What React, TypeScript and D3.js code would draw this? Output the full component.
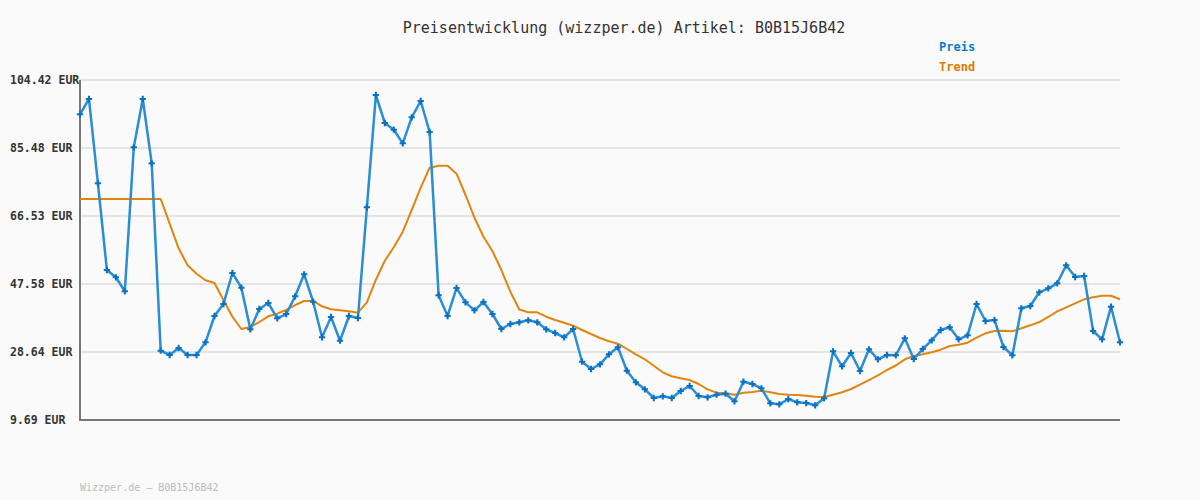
import React, { useEffect, useRef } from "react";
import * as d3 from "d3";

const title = "Preisentwicklung (wizzper.de) Artikel: B0B15J6B42";
const footer = "Wizzper.de – B0B15J6B42";
const legendLabels = ["Preis", "Trend"];
const yTicks = [9.69, 28.64, 47.58, 66.53, 85.48, 104.42];

const price = [
  94.86, 99.13, 75.64, 51.48, 49.45, 45.55, 85.67, 99.13, 81.21, 29.0,
  27.8, 29.75, 27.8, 27.8, 31.34, 38.67, 42.01, 50.65, 46.55, 34.96,
  40.62, 42.29, 38.03, 39.22, 44.15, 50.28, 42.65, 32.73, 38.39, 31.78,
  38.67, 38.11, 68.95, 100.24, 92.44, 90.57, 86.78, 94.03, 98.57, 89.93,
  44.43, 38.67, 46.47, 42.48, 40.25, 42.57, 39.22, 35.04, 36.44, 36.91,
  37.47, 36.91, 34.96, 33.93, 32.73, 35.04, 25.93, 23.9, 25.21, 27.99,
  29.94, 23.42, 20.19, 18.24, 15.82, 16.29, 15.82, 17.77, 19.16, 16.38,
  16.01, 16.74, 17.02, 14.9, 20.36, 19.72, 18.52, 14.34, 14.06, 15.54,
  14.62, 14.42, 13.78, 15.74, 28.83, 24.65, 28.36, 23.34, 29.39, 26.6,
  27.8, 27.72, 32.45, 26.68, 29.47, 31.89, 34.76, 35.52, 32.17, 33.29,
  42.01, 37.27, 37.55, 30.03, 27.72, 40.81, 41.45, 45.27, 46.38, 47.78,
  52.79, 49.53, 49.81, 34.49, 32.17, 41.26, 31.34,
];

const trend = [
  71.26, 71.26, 71.26, 71.26, 71.26, 71.26, 71.26, 71.26, 71.26, 71.26,
  64.38, 57.53, 52.79, 50.45, 48.61, 47.86, 43.12, 38.47, 35.04, 35.6,
  36.99, 38.58, 39.31, 40.34, 41.73, 42.85, 42.85, 41.37, 40.53, 40.25,
  39.97, 39.58, 42.48, 48.78, 54.07, 57.81, 62.15, 68.2, 74.41, 79.98,
  80.54, 80.54, 78.31, 72.38, 66.05, 60.76, 56.78, 51.48, 45.44, 40.48,
  39.7, 39.7, 38.47, 37.55, 36.8, 35.96, 34.76, 33.65, 32.54, 31.62,
  30.95, 29.47, 27.99, 26.6, 24.82, 22.98, 21.87, 21.31, 20.83, 19.72,
  18.24, 17.3, 17.13, 16.74, 17.3, 17.49, 17.85, 17.41, 16.93, 16.74,
  16.65, 16.46, 16.18, 16.1, 16.74, 17.41, 18.33, 19.52, 20.83, 22.14,
  23.62, 24.87, 26.6, 27.52, 27.99, 28.55, 29.28, 30.31, 30.67, 31.23,
  32.62, 33.85, 34.49, 34.57, 34.4, 35.24, 36.07, 36.99, 38.39, 39.97,
  41.09, 42.2, 43.32, 43.88, 44.32, 44.32, 43.32,
];

const W = 1200;
const H = 500;
const M = { left: 80, right: 80, top: 80, bottom: 80 };
const MONO = "'DejaVu Sans Mono', monospace";

export default function App() {
  const ref = useRef<SVGSVGElement>(null);

  useEffect(() => {
    const svg = d3.select(ref.current);
    svg.selectAll("*").remove();

    const x = d3
      .scaleLinear()
      .domain([0, price.length - 1])
      .range([M.left, W - M.right]);
    const y = d3
      .scaleLinear()
      .domain([yTicks[0], yTicks[yTicks.length - 1]])
      .range([H - M.bottom, M.top]);

    svg.append("rect").attr("width", W).attr("height", H).attr("fill", "#fafafa");

    // grid
    svg
      .append("g")
      .selectAll("line")
      .data(yTicks.slice(1))
      .join("line")
      .attr("x1", M.left)
      .attr("x2", W - M.right)
      .attr("y1", (d) => y(d))
      .attr("y2", (d) => y(d))
      .attr("stroke", "#e4e4e4")
      .attr("stroke-width", 2);

    // y labels
    svg
      .append("g")
      .selectAll("text")
      .data(yTicks)
      .join("text")
      .attr("x", 10)
      .attr("y", (d) => y(d))
      .attr("dy", "0.35em")
      .attr("font-family", MONO)
      .attr("font-size", 11.5)
      .attr("font-weight", "bold")
      .attr("fill", "#333")
      .text((d) => `${d.toFixed(2)} EUR`);

    // axes lines
    svg
      .append("line")
      .attr("x1", M.left)
      .attr("x2", M.left)
      .attr("y1", M.top)
      .attr("y2", H - M.bottom + 1)
      .attr("stroke", "#777")
      .attr("stroke-width", 2);
    svg
      .append("line")
      .attr("x1", M.left - 1)
      .attr("x2", W - M.right)
      .attr("y1", H - M.bottom)
      .attr("y2", H - M.bottom)
      .attr("stroke", "#777")
      .attr("stroke-width", 2);

    const line = d3
      .line<number>()
      .x((_, i) => x(i))
      .y((d) => y(d));

    svg
      .append("path")
      .datum(trend)
      .attr("d", line)
      .attr("fill", "none")
      .attr("stroke", "#e0860f")
      .attr("stroke-width", 2)
      .attr("stroke-linejoin", "round");

    svg
      .append("path")
      .datum(price)
      .attr("d", line)
      .attr("fill", "none")
      .attr("stroke", "#2a8dd6")
      .attr("stroke-width", 2.5)
      .attr("stroke-linejoin", "round");

    const sym = d3.symbol().type(d3.symbolCross).size(22);
    svg
      .append("g")
      .selectAll("path")
      .data(price)
      .join("path")
      .attr("transform", (d, i) => `translate(${x(i)},${y(d)})`)
      .attr("d", sym as any)
      .attr("fill", "#0a72c2");

    // title
    svg
      .append("text")
      .attr("x", 624)
      .attr("y", 33)
      .attr("text-anchor", "middle")
      .attr("font-family", MONO)
      .attr("font-size", 15)
      .attr("fill", "#333")
      .text(title);

    // legend
    const legendColors = ["#0a7bc8", "#e07b00"];
    svg
      .append("g")
      .selectAll("text")
      .data(legendLabels)
      .join("text")
      .attr("x", 939)
      .attr("y", (_, i) => 51 + i * 20)
      .attr("font-family", MONO)
      .attr("font-size", 12)
      .attr("font-weight", "bold")
      .attr("fill", (_, i) => legendColors[i])
      .text((d) => d);

    // footer
    svg
      .append("text")
      .attr("x", 80)
      .attr("y", 491)
      .attr("font-family", MONO)
      .attr("font-size", 10)
      .attr("fill", "#bbb")
      .text(footer);
  }, []);

  return (
    <svg
      ref={ref}
      width={W}
      height={H}
      style={{ position: "absolute", left: 0, top: 0, display: "block" }}
    />
  );
}
